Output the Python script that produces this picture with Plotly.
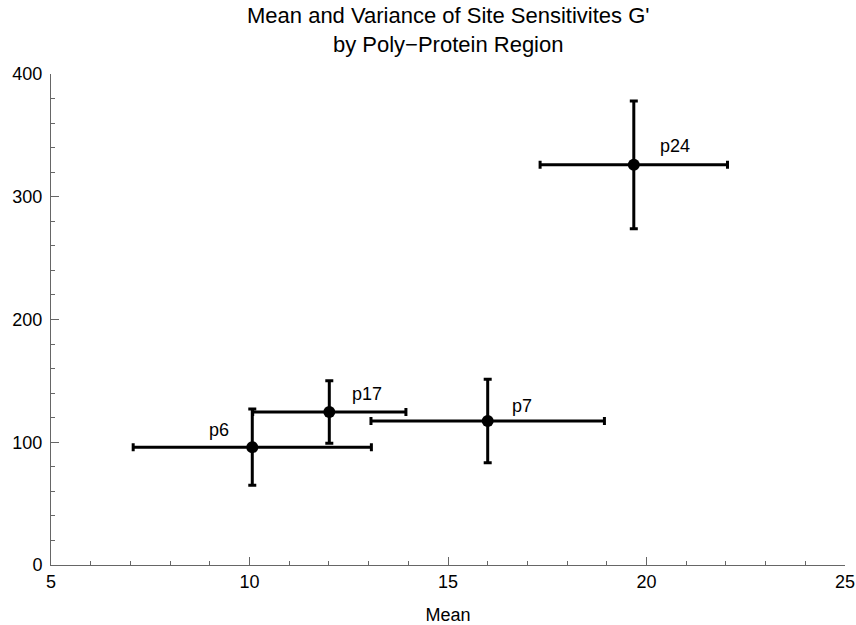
import plotly.graph_objects as go

regions = ["p6", "p17", "p7", "p24"]
mean_x = [10.07, 12.01, 16.0, 19.68]
mean_err = [3.0, 1.93, 2.94, 2.36]
var_y = [96, 124.6, 117.3, 326]
var_err = [31, 25.5, 34, 52]
label_dx = [-33, 38, 34, 41]
label_dy = [17, 18, 15, 19]

FONT = "Liberation Sans, Arial"

fig = go.Figure()
fig.add_trace(go.Scatter(
    x=mean_x, y=var_y, mode="markers",
    marker=dict(color="black", size=12),
    error_x=dict(type="data", array=mean_err, color="black", thickness=3, width=4),
    error_y=dict(type="data", array=var_err, color="black", thickness=3, width=4),
    showlegend=False, hoverinfo="skip",
))

for name, x, y, dx, dy in zip(regions, mean_x, var_y, label_dx, label_dy):
    fig.add_annotation(x=x, y=y, text=name, showarrow=False, xshift=dx, yshift=dy,
                       font=dict(size=18, color="black", family=FONT))

fig.add_annotation(
    xref="paper", yref="paper", x=0.5, y=1, xanchor="center", yanchor="bottom", yshift=15,
    text="Mean and Variance of Site Sensitivites G'<br>by Poly\u2212Protein Region",
    showarrow=False, align="center",
    font=dict(size=22, color="black", family=FONT),
)

axis_common = dict(
    showgrid=False, zeroline=False, showline=True, linecolor="#666", linewidth=1,
    ticks="inside", ticklen=8, tickcolor="#666", tickwidth=1,
    tickfont=dict(size=18, color="black", family=FONT),
    mirror=False, automargin=False,
)
fig.update_xaxes(range=[5, 25], tick0=5, dtick=5,
                 minor=dict(dtick=1, ticks="inside", ticklen=4, tickcolor="#666"),
                 title=dict(text="Mean", font=dict(size=18, color="black", family=FONT), standoff=20),
                 **axis_common)
fig.update_yaxes(range=[0, 400], tick0=0, dtick=100, ticklabelstandoff=4,
                 minor=dict(dtick=20, ticks="inside", ticklen=4, tickcolor="#666"),
                 **axis_common)

fig.update_layout(
    width=856, height=625,
    margin=dict(l=51, r=11, t=74, b=60),
    paper_bgcolor="white", plot_bgcolor="white",
)

fig.write_html("out.html")
